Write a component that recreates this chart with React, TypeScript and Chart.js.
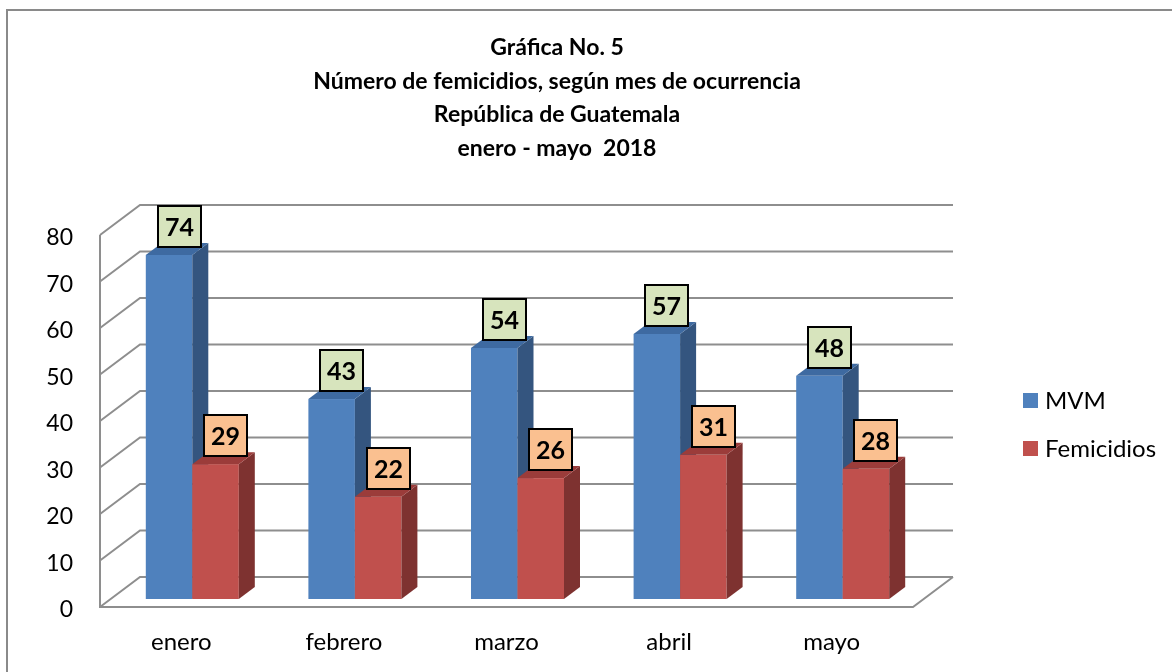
import React, { useEffect, useRef } from "react";
import { Chart, registerables } from "chart.js";

Chart.register(...registerables);

// ---------- data ----------
const CATEGORIES = ["enero", "febrero", "marzo", "abril", "mayo"];
const MVM_VALUES = [74, 43, 54, 57, 48];
const FEMICIDIOS_VALUES = [29, 22, 26, 31, 28];
const SERIES_NAMES = ["MVM", "Femicidios"];
const Y_MIN = 0;
const Y_MAX = 80;
const Y_STEP = 10;
const TITLE_LINES = [
  "Gráfica No. 5",
  "Número de femicidios, según mes de ocurrencia",
  "República de Guatemala",
  "enero - mayo  2018",
];

// ---------- style ----------
const W = 1172;
const H = 672;
const FONT = "Lato, 'Open Sans', 'DejaVu Sans', sans-serif";
const WALL = { dx: 40, dy: -30 };
const BAR_OFFSET = { dx: 11, dy: -8 };
const BAR_DEPTH = { dx: 16, dy: -12 };
const GRID_COLOR = "#8E8E8E";
const SERIES_STYLE = [
  { front: "#4F81BD", side: "#34557F", top: "#3E6AA1", label: "#D7E4BD" },
  { front: "#C0504D", side: "#7E3230", top: "#9B3C3A", label: "#FAC090" },
];

const threeD = {
  id: "threeD",
  beforeDatasetsDraw(chart: any) {
    const { ctx, chartArea: a } = chart;
    const y = chart.scales.y;
    ctx.save();
    ctx.strokeStyle = GRID_COLOR;
    ctx.lineWidth = 2;
    ctx.lineJoin = "miter";
    ctx.beginPath();
    for (let v = Y_MIN; v <= Y_MAX; v += Y_STEP) {
      const py = y.getPixelForValue(v);
      ctx.moveTo(a.left, py);
      ctx.lineTo(a.left + WALL.dx, py + WALL.dy);
      ctx.lineTo(a.right + WALL.dx, py + WALL.dy);
    }
    ctx.moveTo(a.left, y.getPixelForValue(Y_MAX));
    ctx.lineTo(a.left, a.bottom);
    ctx.lineTo(a.right, a.bottom);
    ctx.lineTo(a.right + WALL.dx, a.bottom + WALL.dy);
    ctx.stroke();
    ctx.restore();
  },
  beforeDatasetDraw() {
    return false;
  },
  afterDatasetsDraw(chart: any) {
    const { ctx } = chart;
    const n = chart.data.labels.length;
    const boxes: any[] = [];
    ctx.save();
    for (let i = 0; i < n; i++) {
      for (let d = 0; d < chart.data.datasets.length; d++) {
        const el = chart.getDatasetMeta(d).data[i];
        const p = el.getProps(["x", "y", "base", "width"], true);
        const st = SERIES_STYLE[d];
        const x0 = p.x - p.width / 2 + BAR_OFFSET.dx;
        const x1 = p.x + p.width / 2 + BAR_OFFSET.dx;
        const yT = p.y + BAR_OFFSET.dy;
        const yB = p.base + BAR_OFFSET.dy;
        // front
        ctx.fillStyle = st.front;
        ctx.fillRect(x0, yT, x1 - x0, yB - yT);
        // side
        ctx.fillStyle = st.side;
        ctx.beginPath();
        ctx.moveTo(x1, yB);
        ctx.lineTo(x1 + BAR_DEPTH.dx, yB + BAR_DEPTH.dy);
        ctx.lineTo(x1 + BAR_DEPTH.dx, yT + BAR_DEPTH.dy);
        ctx.lineTo(x1, yT);
        ctx.closePath();
        ctx.fill();
        // top
        ctx.fillStyle = st.top;
        ctx.beginPath();
        ctx.moveTo(x0, yT);
        ctx.lineTo(x0 + BAR_DEPTH.dx, yT + BAR_DEPTH.dy);
        ctx.lineTo(x1 + BAR_DEPTH.dx, yT + BAR_DEPTH.dy);
        ctx.lineTo(x1, yT);
        ctx.closePath();
        ctx.fill();
        boxes.push({
          cx: (x0 + x1) / 2 + 10,
          bottom: yT - 8,
          text: String(chart.data.datasets[d].data[i]),
          fill: st.label,
        });
      }
    }
    // data labels
    const bw = 43;
    const bh = 41;
    ctx.font = `bold 25px ${FONT}`;
    ctx.textAlign = "center";
    ctx.textBaseline = "middle";
    for (const b of boxes) {
      const bx = Math.round(b.cx - bw / 2);
      const by = Math.round(b.bottom - bh);
      ctx.fillStyle = b.fill;
      ctx.fillRect(bx, by, bw, bh);
      ctx.strokeStyle = "#000";
      ctx.lineWidth = 2;
      ctx.strokeRect(bx, by, bw, bh);
      ctx.fillStyle = "#000";
      ctx.fillText(b.text, bx + bw / 2, by + bh / 2 + 1);
    }
    ctx.restore();
  },
  afterDraw(chart: any) {
    const { ctx } = chart;
    ctx.save();
    // outer border
    ctx.strokeStyle = "#8A8A8A";
    ctx.lineWidth = 2;
    ctx.beginPath();
    ctx.moveTo(7, H);
    ctx.lineTo(7, 10);
    ctx.lineTo(W, 10);
    ctx.stroke();
    // title
    ctx.fillStyle = "#000";
    ctx.font = `bold 23px ${FONT}`;
    ctx.textAlign = "center";
    ctx.textBaseline = "alphabetic";
    TITLE_LINES.forEach((t, k) => ctx.fillText(t, 557, 55 + k * 33.5));
    // legend
    ctx.font = `24px ${FONT}`;
    ctx.textAlign = "left";
    ctx.textBaseline = "middle";
    SERIES_NAMES.forEach((name, k) => {
      const cy = 400.5 + k * 48;
      ctx.fillStyle = SERIES_STYLE[k].front;
      ctx.fillRect(1023, cy - 7.5, 15, 15);
      ctx.fillStyle = "#000";
      ctx.fillText(name, 1045, cy + 1);
    });
    ctx.restore();
  },
};

export default function App() {
  const ref = useRef<HTMLCanvasElement>(null);
  useEffect(() => {
    const chart = new Chart(ref.current as HTMLCanvasElement, {
      type: "bar",
      data: {
        labels: CATEGORIES,
        datasets: [
          { label: SERIES_NAMES[0], data: MVM_VALUES, backgroundColor: SERIES_STYLE[0].front },
          { label: SERIES_NAMES[1], data: FEMICIDIOS_VALUES, backgroundColor: SERIES_STYLE[1].front },
        ],
      },
      options: {
        responsive: false,
        animation: false,
        devicePixelRatio: 1,
        layout: { padding: { top: 235, right: W - 913, left: 0, bottom: 0 } },
        datasets: { bar: { categoryPercentage: 0.572, barPercentage: 1 } },
        plugins: {
          legend: { display: false },
          title: { display: false },
          tooltip: { enabled: false },
        },
        scales: {
          x: {
            grid: { display: false, drawTicks: false },
            border: { display: false },
            ticks: { color: "#000", font: { family: FONT, size: 24 }, padding: 21 },
            afterFit: (s: any) => {
              s.height = 65;
            },
          },
          y: {
            min: Y_MIN,
            max: Y_MAX,
            grid: { display: false, drawTicks: false },
            border: { display: false },
            ticks: {
              stepSize: Y_STEP,
              color: "#000",
              font: { family: FONT, size: 23 },
              padding: 27,
              labelOffset: 3,
            },
            afterFit: (s: any) => {
              s.width = 100;
            },
          },
        },
      },
      plugins: [threeD],
    } as any);
    return () => chart.destroy();
  }, []);
  return (
    <div style={{ position: "absolute", left: 0, top: 0, width: W, height: H, background: "#fff" }}>
      <canvas ref={ref} width={W} height={H} style={{ display: "block", width: W, height: H }} />
    </div>
  );
}
